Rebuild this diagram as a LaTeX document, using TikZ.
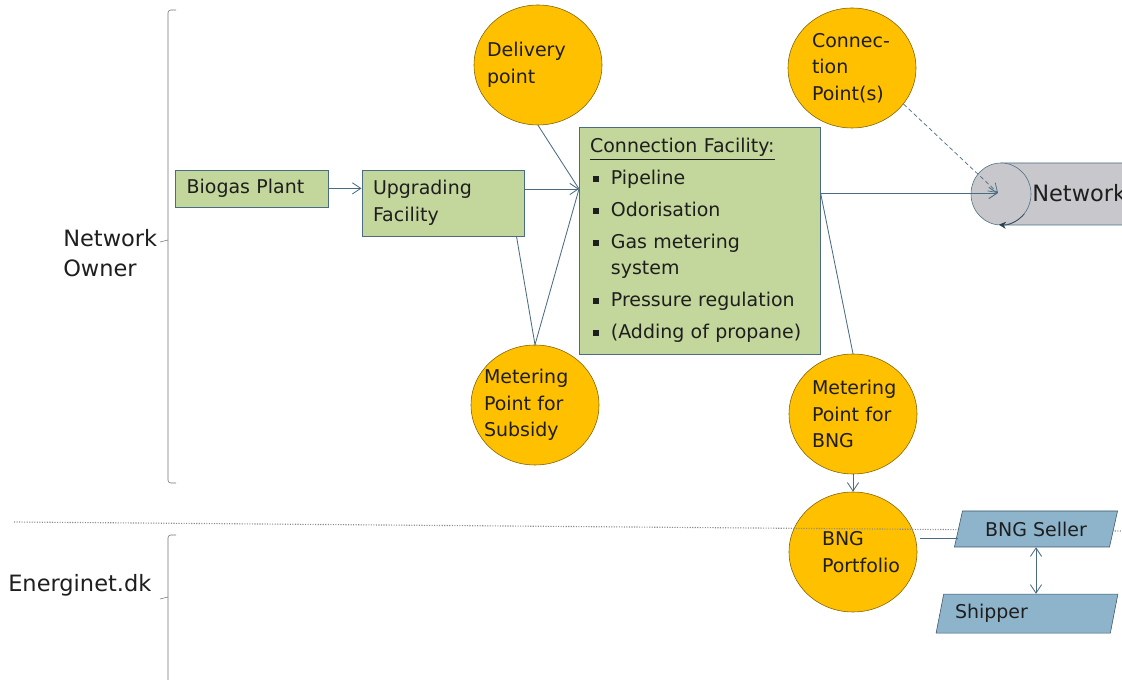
\documentclass[tikz,border=0pt]{standalone}
\usepackage{fontspec}
\setmainfont{DejaVu Sans}
\usepackage{xcolor}
\usetikzlibrary{calc, arrows.meta, shapes.geometric}
\definecolor{boxgreen}{HTML}{C3D69B}
\definecolor{edgeblue}{HTML}{4A6C82}
\definecolor{ptgold}{HTML}{FFC000}
\definecolor{ptedge}{HTML}{7F6000}
\definecolor{roleblue}{HTML}{8EB4CB}
\definecolor{netgrey}{HTML}{C8C8CC}
\definecolor{txt}{HTML}{1E1E1E}
\newcommand{\sqbullet}{\hspace*{0.07cm}\makebox[0.45cm][l]{\rule[0.25ex]{0.3em}{0.3em}}}

\begin{document}
\begin{tikzpicture}[font=\fontsize{13.5}{19}\selectfont,
  gbox/.style={draw=edgeblue, fill=boxgreen, text=txt, align=left, inner xsep=0.28cm, inner ysep=0.1cm},
  pt/.style={ellipse, draw=ptedge, fill=ptgold, text=txt, align=left, minimum width=3.2cm, minimum height=3cm, inner sep=0pt},
  role/.style={trapezium, trapezium left angle=76, trapezium right angle=104, trapezium stretches=true,
    draw=edgeblue!80!black, fill=roleblue, text=txt, minimum height=0.9cm, inner xsep=0.1cm},
  side/.style={text=txt, inner sep=0pt, font=\fontsize{16}{21.3}\selectfont},
  link/.style={edgeblue, line width=0.6pt},
  >={Straight Barb[length=6pt,width=8pt]}]
\useasboundingbox (0,0) rectangle (28.05,17);

% brackets for the two parties
\draw[gray!90!black, rounded corners=2pt] (4.4,16.75) -- (4.2,16.75) -- (4.2,4.925) -- (4.4,4.925);
\draw[gray!90!black] (4.2,11.0) -- (4.0,10.95);
\draw[gray!90!black, rounded corners=2pt] (4.4,3.625) -- (4.2,3.625) -- (4.2,-0.5);
\draw[gray!90!black] (4.2,2.075) -- (4.0,2.025);
\node[side, anchor=west, align=left] (owner) at (1.575,10.675) {Network\\Owner};
\node[side, anchor=west] (energ) at (0.2,2.375) {Energinet.dk};

% plant chain
\node[gbox, text width=3.25cm, minimum height=0.925cm] (bio) at (6.29,12.29) {Biogas Plant};
\node[gbox, text width=3.5cm, minimum height=1.65cm] (upg) at (11.075,11.925) {Upgrading\\Facility};
\node[gbox, text width=5.475cm, minimum height=5.675cm] (conf) at (17.49,10.99) {\underline{Connection Facility:}\\[0.125cm]
  \sqbullet Pipeline\\[0.125cm]
  \sqbullet Odorisation\\[0.125cm]
  \sqbullet Gas metering\\
  \hspace*{0.52cm}system\\[0.125cm]
  \sqbullet Pressure regulation\\[0.125cm]
  \sqbullet (Adding of propane)};

\node[pt, text width=2.55cm, inner xsep=-0.15cm] (del) at (13.45,15.375) {Delivery\\point};
\node[pt, text width=2.55cm, inner xsep=-0.15cm] (sub) at (13.375,6.875) {Metering\\Point for\\Subsidy};
\node[pt, text width=2cm] (cpt) at (21.3,15.3) {Connec-\\tion\\Point(s)};
\node[pt, text width=2.05cm] (mpb) at (21.325,6.65) {Metering\\Point for\\BNG};
\node[pt, text width=1.55cm] (port) at (21.325,3.2) {BNG\\Portfolio};

% network pipe
\draw[edgeblue, fill=netgrey] (25.025,12.925) -- (28.8,12.925) arc[start angle=90, end angle=-90, x radius=0.75cm, y radius=0.775cm] -- (25.025,11.375) -- cycle;
\node[ellipse, draw=edgeblue, fill=netgrey, minimum width=1.5cm, minimum height=1.55cm, inner sep=0pt] (cap) at (25.025,12.15) {};
\draw[edgeblue!60!black, -{Stealth[length=5pt,width=5pt]}] (cap.-40) arc[start angle=-40, end angle=-95, x radius=0.75cm, y radius=0.775cm];
\node[side, anchor=west] (net) at (25.8,12.175) {Network};
\coordinate (netin) at (24.95,12.175);
\coordinate (cfin) at (14.475,12.275);

\draw[gray!90, densely dotted, line width=0.8pt] (0.35,3.95) -- (28.05,3.725);

\node[role, minimum width=4.1cm] (sell) at (25.9,3.775) {BNG Seller};
\node[role, minimum width=4.55cm, minimum height=0.975cm, text width=3.6cm, align=left] (ship) at (25.675,1.66) {Shipper};

% connectors
\draw[link,->] (bio) -- (upg.west |- bio);
\draw[link,->] (upg.east |- cfin) -- (cfin);
\draw[link] (del.south) -- (cfin);
\draw[link] ([xshift=-0.2cm]upg.south east) -- (sub.north) -- (cfin);
\draw[link,->] (conf.east |- netin) -- (netin);
\draw[link,->,densely dashed, line width=0.5pt] (cpt.-35) -- (netin);
\draw[link] (conf.east |- netin) -- (mpb.north);
\draw[link,->] (mpb.south) -- (port.north);
\draw[link] ([xshift=3pt]port.12) -- (port.12 -| sell.west);
\draw[link,<->] (sell.south) -- (sell.south |- ship.north);

\end{tikzpicture}
\end{document}
